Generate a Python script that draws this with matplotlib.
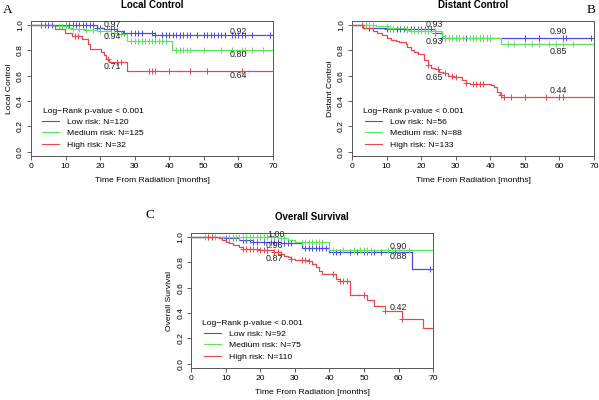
import numpy as np
import matplotlib
matplotlib.use("Agg")
import matplotlib.pyplot as plt

plt.rcParams['font.family'] = ['Liberation Sans', 'DejaVu Sans']

BLUE = '#4b4be6'
GREEN = '#5fe35f'
RED = '#e84848'

# ---------------- Panel A: Local Control ----------------
a_low_t = [0, 19, 21, 25, 26.5, 36]
a_low_s = [1.0, 0.98, 0.966, 0.953, 0.94, 0.92]
a_low_c = [3, 4, 5, 6, 10, 11, 12, 13, 14, 15, 16, 17, 18, 19, 20, 22, 23, 24, 25, 27,
           29, 30, 31, 32, 35, 36, 38, 39, 40, 41, 42, 43, 44, 45, 46, 48, 50, 51, 52,
           53, 54, 55, 56, 58, 59, 60, 61, 62, 64, 69]
a_med_t = [0, 6.5, 10.8, 12, 16, 19, 23, 25, 27.7, 40.7]
a_med_s = [1.0, 0.99, 0.98, 0.97, 0.96, 0.955, 0.94, 0.93, 0.875, 0.80]
a_med_c = [8, 9, 10, 12, 14, 16, 18, 20, 22, 24, 26, 29, 30, 31, 32, 33, 34, 35, 36, 37,
           38, 39, 42, 43, 44, 45, 46, 50, 55, 58, 61, 62, 64, 67]
a_high_t = [0, 6.8, 9.8, 11.8, 14.7, 16.6, 17.2, 20.3, 21.1, 21.7, 22.6, 27.9]
a_high_s = [1.0, 0.97, 0.94, 0.91, 0.89, 0.85, 0.81, 0.79, 0.76, 0.73, 0.71, 0.64]
a_high_c = [3, 12.7, 13.7, 22.3, 25, 26, 34, 35, 36, 40, 46, 51, 61]
a_labels = ['0.97', '0.94', '0.71', '0.92', '0.80', '0.64']
a_label_x = [23.6, 23.6, 23.6, 60, 60, 60]
a_label_y = [1.008, 0.908, 0.676, 0.947, 0.768, 0.605]
a_n = [120, 125, 32]

# ---------------- Panel B: Distant Control ----------------
b_low_t = [0, 3.1, 10, 24, 26]
b_low_s = [1.0, 0.976, 0.966, 0.94, 0.90]
b_low_c = [5, 10, 11, 12, 13, 14, 15, 16, 17, 18, 19, 20, 21, 22, 23, 24, 26, 27, 28, 29,
           30, 31, 33, 35, 37, 38, 39, 40, 50, 54, 61, 62, 69]
b_med_t = [0, 7, 10.5, 16, 17, 26, 27, 43]
b_med_s = [1.0, 0.99, 0.98, 0.962, 0.955, 0.916, 0.90, 0.85]
b_med_c = [4, 5, 6, 10, 11, 12, 16, 17, 18, 19, 20, 21, 22, 24, 27, 28, 29, 30, 31, 32,
           34, 35, 36, 37, 38, 39, 40, 45, 47, 50, 52, 54, 57, 59, 61, 64]
b_high_t = [0, 3.1, 6, 7.2, 8.7, 10, 11.3, 12.8, 13.7, 15.5, 16, 17, 18, 19, 20.7, 22,
            23, 23.9, 25.3, 26.3, 27.8, 29.2, 31.9, 33, 34, 40.3, 41.1, 42, 42.7, 43.2]
b_high_s = [1.0, 0.98, 0.955, 0.934, 0.92, 0.90, 0.885, 0.875, 0.866, 0.853, 0.83, 0.80,
            0.787, 0.77, 0.724, 0.684, 0.664, 0.65, 0.63, 0.62, 0.597, 0.59, 0.566, 0.54,
            0.534, 0.526, 0.508, 0.474, 0.447, 0.434]
b_high_c = [3, 22, 25, 27, 29, 30, 33, 35, 36, 37, 38, 43, 44, 46, 50, 56, 60, 61]
b_labels = ['0.93', '0.93', '0.65', '0.90', '0.85', '0.44']
b_label_x = [23.7, 23.7, 23.7, 59.7, 59.7, 59.7]
b_label_y = [1.008, 0.868, 0.587, 0.947, 0.79, 0.487]
b_n = [56, 88, 133]

# ---------------- Panel C: Overall Survival ----------------
c_low_t = [0, 10, 14, 18, 26, 32, 40, 64]
c_low_s = [1.0, 0.99, 0.976, 0.963, 0.95, 0.916, 0.88, 0.75]
c_low_c = [10, 11, 12, 13, 15, 16, 17, 18, 19, 21, 23, 24, 25, 27, 28, 29, 33, 34, 35, 36,
           37, 38, 39, 41, 42, 43, 46, 48, 50, 51, 52, 53, 55, 59, 69]
c_med_t = [0, 25, 28, 30, 40]
c_med_s = [1.0, 0.99, 0.975, 0.96, 0.90]
c_med_c = [4, 5, 6, 7, 11, 12, 13, 14, 15, 16, 17, 18, 19, 20, 21, 22, 23, 24, 26, 27, 32,
           33, 34, 35, 36, 37, 38, 41, 44, 47, 49, 50, 51, 52, 57, 58, 60, 63]
c_high_t = [0, 8, 9, 10, 11, 12, 14, 15, 20, 24, 26, 27, 28, 29, 30, 34, 35, 36, 37,
            38, 42, 43, 46, 51, 53, 56, 61, 67]
c_high_s = [1.0, 0.99, 0.98, 0.96, 0.95, 0.94, 0.92, 0.905, 0.895, 0.88, 0.865, 0.85,
            0.84, 0.83, 0.82, 0.81, 0.79, 0.76, 0.73, 0.705, 0.67, 0.65, 0.54, 0.50,
            0.455, 0.415, 0.355, 0.285]
c_high_c = [5, 6, 15, 16, 17, 18, 19, 20, 21, 22, 24, 25, 26, 29, 32, 33, 34, 41, 43, 44,
            45, 50, 56, 61]
c_labels = ['1.00', '0.96', '0.87', '0.90', '0.88', '0.42']
c_label_x = [24.5, 24, 24, 60, 60, 60]
c_label_y = [1.02, 0.93, 0.83, 0.924, 0.845, 0.445]
c_n = [92, 75, 110]

titles = ['Local Control', 'Distant Control', 'Overall Survival']
ylabels = ['Local Control', 'Distant Control', 'Overall Survival']
letters = ['A', 'B', 'C']
risk_names = ['Low risk', 'Medium risk', 'High risk']
xticks = [0, 10, 20, 30, 40, 50, 60, 70]
yticks = [0.0, 0.2, 0.4, 0.6, 0.8, 1.0]

panels = [
    [(a_low_t, a_low_s, a_low_c), (a_med_t, a_med_s, a_med_c), (a_high_t, a_high_s, a_high_c),
     a_labels, a_label_x, a_label_y, a_n],
    [(b_low_t, b_low_s, b_low_c), (b_med_t, b_med_s, b_med_c), (b_high_t, b_high_s, b_high_c),
     b_labels, b_label_x, b_label_y, b_n],
    [(c_low_t, c_low_s, c_low_c), (c_med_t, c_med_s, c_med_c), (c_high_t, c_high_s, c_high_c),
     c_labels, c_label_x, c_label_y, c_n],
]

FS = 6.1

fig = plt.figure(figsize=(5.99, 4.0), dpi=100)
W = 0.404
H = 0.3375
rects = [[0.0518, 0.61, W, H], [0.5876, 0.61, W, H], [0.319, 0.08, W, H]]
letter_pos = [(0.004, 0.99), (0.994, 0.99), (0.243, 0.478)]

def step_at(t, s, x):
    idx = np.searchsorted(np.asarray(t), np.asarray(x), side='right') - 1
    return np.asarray(s)[idx]

for i, p in enumerate(panels):
    ax = fig.add_axes(rects[i])
    curves = p[:3]
    labels, lx, ly, ns = p[3], p[4], p[5], p[6]
    colors = [BLUE, GREEN, RED]
    order = [1, 0, 2]
    for k in order:
        t, s, c = curves[k]
        tt = list(t) + [70]
        ss = list(s) + [s[-1]]
        ax.step(tt, ss, where='post', color=colors[k], lw=0.9, zorder=2 + k)
        ax.plot(c, step_at(t, s, c), ls='none', marker='+', ms=3.8, mew=0.7,
                color=colors[k], zorder=2 + k)
    for lab, x, y in zip(labels, lx, ly):
        ax.text(x, y, lab, fontsize=FS + 0.3, ha='center', va='center', color='#222222',
                zorder=10)
    handles = [plt.Line2D([], [], color=colors[k], lw=0.8) for k in range(3)]
    leg_labels = [f'{risk_names[k]}: N={ns[k]}' for k in range(3)]
    leg = ax.legend(handles, leg_labels, loc='lower left', bbox_to_anchor=(0.047, 0.055),
                    frameon=False, fontsize=FS, title='Log\u2212Rank p-value < 0.001',
                    title_fontsize=FS, handlelength=2.0, handletextpad=0.95,
                    labelspacing=0.38, borderaxespad=0.0, borderpad=0.0)
    ax.set_xlim(0, 70)
    ax.set_ylim(-0.034, 1.032)
    ax.set_xticks(xticks)
    ax.set_yticks(yticks)
    ax.set_yticklabels([f'{v:.1f}' for v in yticks], rotation=90, va='center')
    ax.tick_params(labelsize=FS, length=3, width=0.6, color='#444444', pad=2)
    for sp in ax.spines.values():
        sp.set_color('#555555')
        sp.set_linewidth(0.7)
    ax.set_title(titles[i], fontsize=7, fontweight='bold', pad=9)
    ax.set_xlabel('Time From Radiation [months]', fontsize=FS, labelpad=5)
    ax.set_ylabel(ylabels[i], fontsize=FS, labelpad=3)
    fig.text(letter_pos[i][0], letter_pos[i][1], letters[i], fontsize=9.5,
             family=['Liberation Serif', 'DejaVu Serif'], ha='left' if i != 1 else 'right',
             va='top')

fig.savefig('out.png', dpi=100)
